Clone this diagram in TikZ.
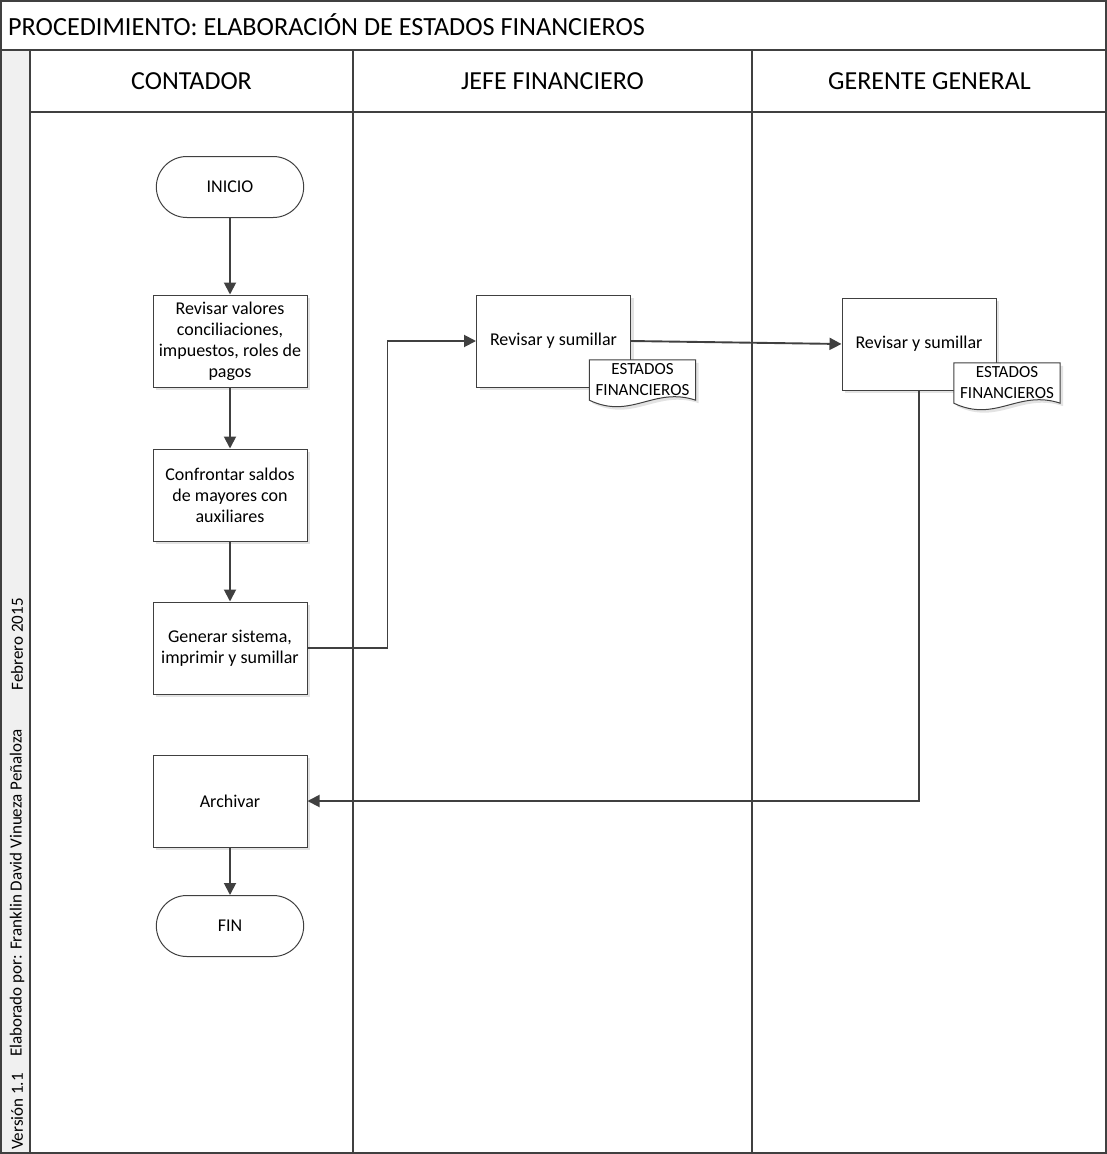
\documentclass[tikz,border=0pt]{standalone}
\usepackage{fontspec}
\setmainfont{Carlito}
\usetikzlibrary{arrows.meta,shapes.misc,shadows}
\definecolor{linea}{HTML}{404040}
\definecolor{franja}{HTML}{F0F0F0}
\definecolor{sombra}{HTML}{E3E3E3}

% hoja de documento con borde inferior ondulado
\newcommand\hoja[1]{%
\fill[sombra,transform canvas={shift={(3pt,-3pt)}}] (#1.north west) -- (#1.south west) .. controls +(42,20) and +(-42,-14) .. (#1.south east) -- (#1.north east) -- cycle;
\filldraw[fill=white,draw=linea,line width=1pt] (#1.north west) -- (#1.south west) .. controls +(42,20) and +(-42,-14) .. (#1.south east) -- (#1.north east) -- cycle;
}

\begin{document}
\begin{tikzpicture}[x=1pt,y=-1pt,
  caja/.style={draw=linea,line width=1pt,fill=white,minimum width=154pt,minimum height=92pt,inner sep=2pt,align=center,font=\fontsize{18}{21}\selectfont,drop shadow={shadow xshift=3pt,shadow yshift=-3pt,fill=sombra,opacity=1}},
  terminal/.style={draw=linea,line width=1pt,fill=white,rounded rectangle,minimum width=154pt,minimum height=61pt,font=\fontsize{18}{21}\selectfont},
  docu/.style={minimum width=106pt,minimum height=40pt,inner sep=0pt,align=center,font=\fontsize{17}{21}\selectfont},
  flecha/.style={draw=linea,line width=1.9pt,-{Triangle[length=12pt,width=12pt]}},
  marco/.style={draw=linea,line width=1.5pt},
  carril/.style={font=\fontsize{26}{30}\selectfont},
  lateral/.style={rotate=90,inner sep=0pt,font=\fontsize{17}{20}\selectfont}]

\useasboundingbox (0,0) rectangle (1107,1154);
% marco, encabezados y carriles
\fill[franja] (0,50) rectangle (30,1154);
\draw[marco] (1,1) rectangle (1106,1153);
\draw[marco] (0,50) -- (1107,50);
\draw[marco] (30,112) -- (1107,112);
\foreach \x in {30,353,752}\draw[marco] (\x,50) -- (\x,1154);

\node[anchor=west,inner sep=0pt,font=\fontsize{26.2}{30}\selectfont] (titulo) at (8,25) {PROCEDIMIENTO: ELABORACIÓN DE ESTADOS FINANCIEROS};
\node[carril] (contador) at (191.5,81) {CONTADOR};
\node[carril] (jefefin) at (552.5,81) {JEFE FINANCIERO};
\node[carril] (gerentegen) at (929.5,81) {GERENTE GENERAL};

\node[lateral,anchor=west] (version) at (17,1150) {Versión 1.1};
\node[lateral] (elaborado) at (17,893) {Elaborado por: Franklin David Vinueza Peñaloza};
\node[lateral,anchor=east] (fecha) at (17,598) {Febrero 2015};

% actividades
\node[terminal] (inicio) at (230,187) {INICIO};
\node[caja] (revisar) at (230,341) {Revisar valores\\conciliaciones,\\impuestos, roles de\\pagos};
\node[caja] (confrontar) at (230,495) {Confrontar saldos\\de mayores con\\auxiliares};
\node[caja] (generar) at (230,648) {Generar sistema,\\imprimir y sumillar};
\node[caja] (archivar) at (230,801) {Archivar};
\node[terminal] (fin) at (230,926) {FIN};
\node[caja] (jefe) at (553.5,341) {Revisar y sumillar};
\node[caja] (gerente) at (919,344) {Revisar y sumillar};

\node[docu] (jefedoc) at (642.5,380) {};
\hoja{jefedoc}
\node[docu] at (jefedoc) {ESTADOS\\FINANCIEROS};
\node[docu] (gerentedoc) at (1007,383) {};
\hoja{gerentedoc}
\node[docu] at (gerentedoc) {ESTADOS\\FINANCIEROS};

% flujo
\draw[flecha] (inicio) -- (revisar);
\draw[flecha] (revisar) -- (confrontar);
\draw[flecha] (confrontar) -- (generar);
\draw[flecha] (generar.east) -- ++(80,0) |- (jefe.west);
\draw[flecha] (jefe.east) -- (gerente.west);
\draw[flecha] (gerente.south) |- (archivar.east);
\draw[flecha] (archivar) -- (fin);
\end{tikzpicture}
\end{document}
